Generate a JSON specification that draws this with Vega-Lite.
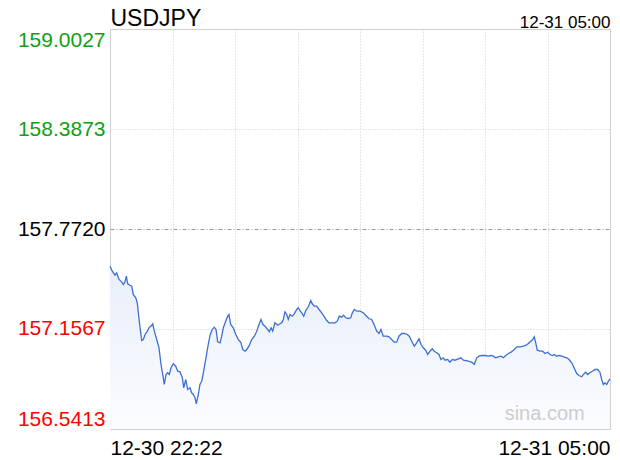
{
  "$schema": "https://vega.github.io/schema/vega-lite/v6.json",
  "width": 500,
  "height": 400,
  "autosize": {"type": "none"},
  "padding": {"left": 110, "top": 29, "right": 10, "bottom": 31},
  "background": "white",
  "config": {"view": {"stroke": "#d0d0d0", "strokeWidth": 1}, "font": "Liberation Sans"},
  "data": {"values": [
    {"t":0.0,"p":157.5431},{"t":1.8,"p":157.5124},{"t":4.0,"p":157.4878},{"t":5.3,"p":157.5025},{"t":7.2,"p":157.4613},
    {"t":9.3,"p":157.4471},{"t":10.6,"p":157.4305},{"t":11.9,"p":157.4471},{"t":13.0,"p":157.4816},{"t":14.1,"p":157.4348},
    {"t":15.9,"p":157.4262},{"t":17.3,"p":157.4201},{"t":18.5,"p":157.369},{"t":20.5,"p":157.3487},{"t":21.7,"p":157.3179},
    {"t":23.3,"p":157.2047},{"t":25.2,"p":157.0859},{"t":26.5,"p":157.0921},{"t":27.9,"p":157.1229},{"t":29.7,"p":157.1432},
    {"t":31.3,"p":157.1678},{"t":32.6,"p":157.1739},{"t":34.0,"p":157.1887},{"t":35.3,"p":157.1432},{"t":37.2,"p":157.0921},
    {"t":39.0,"p":157.041},{"t":40.6,"p":156.9382},{"t":42.2,"p":156.8663},{"t":43.2,"p":156.8152},{"t":44.6,"p":156.8767},
    {"t":45.9,"p":156.8872},{"t":47.2,"p":156.8767},{"t":48.6,"p":156.9179},{"t":50.4,"p":156.9426},{"t":52.3,"p":156.9278},
    {"t":53.9,"p":156.897},{"t":55.7,"p":156.8933},{"t":57.6,"p":156.8564},{"t":58.7,"p":156.7949},{"t":60.3,"p":156.8459},
    {"t":61.8,"p":156.7844},{"t":63.7,"p":156.7949},{"t":65.0,"p":156.7641},{"t":66.3,"p":156.7536},{"t":67.7,"p":156.7333},
    {"t":68.7,"p":156.6964},{"t":70.3,"p":156.7536},{"t":71.6,"p":156.8152},{"t":73.0,"p":156.8355},{"t":74.8,"p":156.9075},
    {"t":76.4,"p":156.9795},{"t":78.2,"p":157.0613},{"t":79.8,"p":157.1229},{"t":81.4,"p":157.1536},{"t":83.0,"p":157.1678},
    {"t":84.4,"p":157.1536},{"t":85.7,"p":157.0779},{"t":87.6,"p":157.0718},{"t":88.9,"p":157.1124},{"t":90.2,"p":157.1641},
    {"t":92.1,"p":157.2047},{"t":93.7,"p":157.2355},{"t":94.7,"p":157.2459},{"t":96.1,"p":157.1844},{"t":98.1,"p":157.1641},
    {"t":100.1,"p":157.1229},{"t":102.1,"p":157.0921},{"t":104.3,"p":157.0718},{"t":105.6,"p":157.0306},{"t":107.5,"p":157.0201},
    {"t":108.8,"p":157.0306},{"t":110.6,"p":157.0509},{"t":112.8,"p":157.0921},{"t":114.9,"p":157.1124},{"t":116.8,"p":157.1432},
    {"t":118.6,"p":157.1844},{"t":120.2,"p":157.2152},{"t":121.8,"p":157.1844},{"t":123.4,"p":157.1739},{"t":125.5,"p":157.1536},
    {"t":126.8,"p":157.1395},{"t":128.2,"p":157.1641},{"t":129.5,"p":157.1432},{"t":131.3,"p":157.1949},{"t":133.5,"p":157.1801},
    {"t":135.3,"p":157.1887},{"t":136.7,"p":157.1949},{"t":138.0,"p":157.2152},{"t":139.3,"p":157.2625},{"t":140.7,"p":157.2459},
    {"t":141.9,"p":157.2152},{"t":143.3,"p":157.2459},{"t":145.1,"p":157.2355},{"t":146.7,"p":157.2502},{"t":148.6,"p":157.2767},
    {"t":149.9,"p":157.2872},{"t":151.5,"p":157.2662},{"t":152.6,"p":157.2564},{"t":154.2,"p":157.2355},{"t":155.8,"p":157.2705},
    {"t":157.4,"p":157.2872},{"t":158.6,"p":157.3075},{"t":159.8,"p":157.3321},{"t":161.0,"p":157.3118},{"t":162.6,"p":157.297},
    {"t":164.5,"p":157.297},{"t":166.4,"p":157.2767},{"t":168.5,"p":157.2564},{"t":170.3,"p":157.2355},{"t":172.5,"p":157.209},
    {"t":174.3,"p":157.1949},{"t":176.5,"p":157.1949},{"t":179.1,"p":157.1949},{"t":180.9,"p":157.2047},{"t":182.5,"p":157.2355},
    {"t":184.4,"p":157.2293},{"t":186.0,"p":157.2416},{"t":187.6,"p":157.2256},{"t":189.7,"p":157.2213},{"t":191.6,"p":157.2256},
    {"t":192.9,"p":157.2564},{"t":194.5,"p":157.2767},{"t":196.4,"p":157.2662},{"t":199.0,"p":157.2662},{"t":201.6,"p":157.2564},
    {"t":204.3,"p":157.2355},{"t":206.2,"p":157.2195},{"t":208.3,"p":157.2152},{"t":210.2,"p":157.1844},{"t":212.3,"p":157.1432},
    {"t":214.1,"p":157.129},{"t":215.7,"p":157.1536},{"t":217.5,"p":157.1124},{"t":220.3,"p":157.1124},{"t":222.1,"p":157.1087},
    {"t":224.2,"p":157.0921},{"t":226.3,"p":157.0755},{"t":228.2,"p":157.0755},{"t":230.0,"p":157.1124},{"t":232.2,"p":157.129},
    {"t":234.3,"p":157.129},{"t":236.7,"p":157.1229},{"t":238.2,"p":157.1124},{"t":240.2,"p":157.0816},{"t":242.2,"p":157.0509},
    {"t":244.1,"p":157.0718},{"t":246.0,"p":157.0964},{"t":247.6,"p":157.0613},{"t":249.4,"p":157.041},{"t":251.3,"p":157.0262},
    {"t":252.9,"p":156.9998},{"t":254.7,"p":157.0201},{"t":256.6,"p":157.0349},{"t":258.1,"p":157.0201},{"t":260.0,"p":157.0102},
    {"t":261.9,"p":156.9998},{"t":263.4,"p":156.969},{"t":265.3,"p":156.9795},{"t":266.7,"p":156.9647},{"t":268.8,"p":156.969},
    {"t":270.6,"p":156.9524},{"t":272.5,"p":156.969},{"t":274.6,"p":156.9647},{"t":277.3,"p":156.9733},{"t":279.4,"p":156.9795},
    {"t":281.3,"p":156.9647},{"t":283.1,"p":156.9629},{"t":285.2,"p":156.9586},{"t":287.9,"p":156.9524},{"t":290.0,"p":156.9382},
    {"t":291.9,"p":156.9795},{"t":293.7,"p":156.9893},{"t":295.9,"p":156.9936},{"t":298.5,"p":156.9936},{"t":301.1,"p":156.9893},
    {"t":303.3,"p":156.9936},{"t":305.1,"p":156.9893},{"t":307.0,"p":156.9795},{"t":309.1,"p":156.9856},{"t":311.2,"p":156.9893},
    {"t":313.1,"p":156.9795},{"t":315.0,"p":156.9936},{"t":317.1,"p":157.0059},{"t":319.2,"p":157.0139},{"t":321.8,"p":157.0306},
    {"t":323.8,"p":157.0472},{"t":326.4,"p":157.0472},{"t":329.0,"p":157.0509},{"t":330.9,"p":157.0552},{"t":333.0,"p":157.0675},
    {"t":334.9,"p":157.0816},{"t":336.5,"p":157.0921},{"t":337.7,"p":157.1087},{"t":338.9,"p":157.0718},{"t":340.1,"p":157.0262},
    {"t":342.3,"p":157.0201},{"t":344.4,"p":157.0201},{"t":346.3,"p":157.0059},{"t":348.4,"p":157.0139},{"t":350.2,"p":156.9998},
    {"t":352.1,"p":156.9936},{"t":353.7,"p":156.9998},{"t":355.6,"p":156.9893},{"t":357.4,"p":156.9936},{"t":359.6,"p":156.9893},
    {"t":361.7,"p":156.9832},{"t":363.6,"p":156.9795},{"t":365.4,"p":156.969},{"t":367.5,"p":156.9487},{"t":369.4,"p":156.9179},
    {"t":371.5,"p":156.8829},{"t":373.3,"p":156.8706},{"t":375.5,"p":156.8626},{"t":376.8,"p":156.8767},{"t":378.7,"p":156.8909},
    {"t":380.2,"p":156.8767},{"t":382.1,"p":156.8872},{"t":383.9,"p":156.897},{"t":386.1,"p":156.9075},{"t":388.2,"p":156.9075},
    {"t":390.0,"p":156.8909},{"t":391.4,"p":156.8459},{"t":392.7,"p":156.8152},{"t":394.0,"p":156.8256},{"t":395.4,"p":156.8152},
    {"t":396.7,"p":156.8355},{"t":398.0,"p":156.8503}
  ]},
  "layer": [
    {
      "mark": {"type": "area", "color": {"gradient": "linear", "x1": 0, "y1": 0, "x2": 0, "y2": 1,
        "stops": [{"offset": 0, "color": "#e8eef9"}, {"offset": 1, "color": "#fbfcff"}]}},
      "encoding": {
        "x": {
          "field": "t", "type": "quantitative",
          "scale": {"domain": [0, 398], "nice": false, "zero": false},
          "axis": {
            "orient": "bottom", "title": null,
            "values": [0, 49.75, 99.5, 149.25, 199, 248.75, 298.5, 348.25, 398],
            "labelExpr": "datum.value == 0 ? '12-30 22:22' : (datum.value == 398 ? '12-31 05:00' : '')",
            "labelFlush": true, "labelOverlap": false,
            "ticks": false, "domain": false,
            "grid": true, "gridColor": "#cfcfcf", "gridDash": [1, 2],
            "labelFontSize": 21, "labelColor": "#000000",
            "labelBaseline": "alphabetic", "labelPadding": 25
          }
        },
        "y": {
          "field": "p", "type": "quantitative",
          "scale": {"domain": [156.5413, 159.0027], "zero": false, "nice": false},
          "axis": {
            "title": null,
            "values": [156.5413, 157.1567, 157.772, 158.3873, 159.0027],
            "format": ".4f",
            "labelFlush": true,
            "labelOverlap": false,
            "labelFontSize": 21,
            "labelPadding": 5,
            "ticks": false,
            "domain": false,
            "grid": true,
            "gridColor": {"condition": {"test": "abs(datum.value - 157.772) < 0.001", "value": "#999999"}, "value": "#cfcfcf"},
            "gridDash": {"condition": {"test": "abs(datum.value - 157.772) < 0.001", "value": [4, 2, 1, 2]}, "value": [1, 2]},
            "labelColor": {"condition": [
              {"test": "datum.value > 157.78", "value": "#11a011"},
              {"test": "datum.value < 157.76", "value": "#ff0000"}
            ], "value": "#000000"}
          }
        },
        "y2": {"datum": 156.5413}
      }
    },
    {
      "mark": {"type": "line", "color": "#3d6fd2", "strokeWidth": 1.3},
      "encoding": {
        "x": {
          "field": "t", "type": "quantitative",
          "axis": {
            "orient": "top",
            "values": [398],
            "labelExpr": "'12-31 05:00'",
            "labelFlush": true, "labelOverlap": false,
            "ticks": false, "domain": false, "grid": false,
            "labelFontSize": 17, "labelColor": "#000000",
            "labelBaseline": "alphabetic", "labelPadding": 2,
            "title": "USDJPY", "titleX": 0, "titleY": -4,
            "titleAlign": "left", "titleBaseline": "alphabetic", "titleAnchor": "start",
            "titleFontSize": 23, "titleFontWeight": "normal", "titleColor": "#000000"
          }
        },
        "y": {"field": "p", "type": "quantitative"}
      }
    },
    {
      "data": {"values": [{"w": "sina.com"}]},
      "mark": {"type": "text", "color": "#cdcdcd", "fontSize": 20, "align": "center", "baseline": "alphabetic"},
      "encoding": {
        "x": {"datum": 346, "type": "quantitative", "axis": null},
        "y": {"datum": 156.594, "type": "quantitative"},
        "text": {"field": "w"}
      }
    }
  ],
  "resolve": {"axis": {"x": "independent"}}
}
